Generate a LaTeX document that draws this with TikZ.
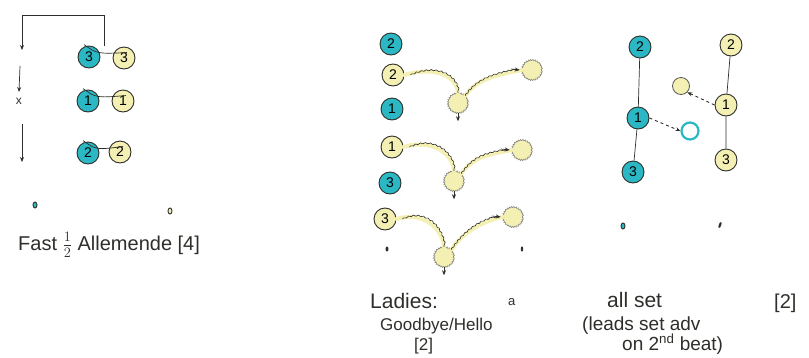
\documentclass[tikz,border=0pt]{standalone}
\usepackage{fontspec}
\setmainfont{Liberation Sans}
\usetikzlibrary{arrows.meta,decorations.pathmorphing,shapes.geometric}
\definecolor{leadc}{HTML}{2BB8C4}
\definecolor{followc}{HTML}{F4F0B4}
\definecolor{inkc}{HTML}{2E2E2A}
\tikzset{
  x=1pt, y=-1pt,
  dancer/.style={circle, draw=inkc, line width=0.9pt, minimum size=22pt, inner sep=0pt, font=\fontsize{14}{14}\selectfont},
  lead/.style={dancer, fill=leadc},
  follow/.style={dancer, fill=followc},
  ghost/.style={circle, fill=followc, draw=inkc!60, line width=0.5pt, minimum size=20pt, inner sep=0pt,
    decorate, decoration={zigzag, segment length=2.2pt, amplitude=0.7pt}},
  spot/.style={ellipse, draw=inkc, line width=0.9pt, minimum width=5pt, minimum height=7pt, inner sep=0pt},
  arm/.style={draw=inkc, line width=0.7pt},
  link/.style={draw=inkc, line width=0.7pt},
  trail/.style={draw=followc, line width=4pt, line cap=round},
  track/.style={draw=inkc, line width=0.6pt, decorate, decoration={snake, segment length=5pt, amplitude=0.6pt}},
  tip/.style={-{Stealth[length=5pt,width=4pt]}, draw=inkc, line width=0.7pt},
  hand/.style={font=\fontsize{17}{17}\selectfont, text=inkc, inner sep=0pt, anchor=base west},
}
\begin{document}
\begin{tikzpicture}
\useasboundingbox (0,0) rectangle (809,357);

% ---- Fast half allemande: three couples in a column ----
\node[lead]   (l3) at (89,57)  {3};
\node[follow] (f3) at (124,58) {3};
\node[lead]   (l1) at (88,101) {1};
\node[follow] (f1) at (123,101) {1};
\node[lead]   (l2) at (88,153) {2};
\node[follow] (f2) at (120,152) {2};
\foreach \a/\b in {l3/f3,l1/f1,l2/f2}
  \draw[arm] ([xshift=-5pt,yshift=1pt]\a.north) .. controls ([yshift=-5pt]\a.north east) .. ([xshift=3pt,yshift=-6pt]\b.north);

% travel bracket and arrows down the set
\coordinate (bs) at (104,46);
\coordinate (bt) at (22,50);
\draw[tip] (bs) -- (104,15) -- (22,15) -- (bt);
\coordinate (a1s) at (20,66);
\coordinate (a1e) at (19,92);
\draw[tip] (a1s) -- (a1e);
\node[text=inkc, font=\fontsize{12}{12}\selectfont, inner sep=0pt] (xmark) at (19,101) {x};
\coordinate (a2s) at (22,124);
\coordinate (a2e) at (22,162);
\draw[tip] (a2s) -- (a2e);

\node[spot, fill=leadc, minimum width=4pt, minimum height=6pt] (sl) at (35,205) {};
\node[spot, fill=followc, minimum width=4pt, minimum height=6pt] (sf) at (170,211) {};
\node[hand, font=\fontsize{20}{20}\selectfont] (t1) at (18,250) {Fast $\frac{1}{2}$ Allemende [4]};

% ---- Ladies goodbye / hello ----
\node[lead]   (m2) at (391,44)  {2};
\node[follow] (n2) at (393,75)  {2};
\node[lead]   (m1) at (392,109) {1};
\node[follow] (n1) at (392,147) {1};
\node[lead]   (m3) at (390,183) {3};
\node[follow] (n3) at (385,219) {3};

\node[ghost] (g2a) at (458,103) {};
\node[ghost] (g2b) at (532,70)  {};
\node[ghost] (g1a) at (454,181) {};
\node[ghost] (g1b) at (522,150) {};
\node[ghost] (g3a) at (444,257) {};
\node[ghost] (g3b) at (513,217) {};

% yellow highlight under each track
\foreach \s/\m/\e in {n2/g2a/g2b, n1/g1a/g1b, n3/g3a/g3b}{
  \draw[trail] (\s.east) .. controls +(25,-8) and +(-2,-20) .. (\m.north);
  \draw[trail] (\m.north east) .. controls +(12,-18) and +(-20,4) .. (\e.west);
}
\foreach \s/\m/\e in {n2/g2a/g2b, n1/g1a/g1b, n3/g3a/g3b}{
  \draw[track] ([xshift=6pt]\s.east) .. controls +(22,-10) and +(-2,-20) .. (\m.north);
  \draw[track] (\m.north east) .. controls +(12,-18) and +(-18,4) .. ([xshift=-6pt]\e.west);
  \draw[tip] ([xshift=-11pt,yshift=1pt]\e.west) -- ([xshift=-2pt]\e.west);
  \draw[tip] (\m.south) -- ([yshift=-8pt]\m.south);
}
\node[spot, minimum width=2pt, minimum height=4pt, fill=inkc] (d1) at (387,249) {};
\node[spot, minimum width=1.5pt, minimum height=4pt, fill=inkc] (d2) at (522,249) {};

% ---- All set ----
\node[lead]   (p2) at (640,47)  {2};
\node[lead]   (p1) at (638,118) {1};
\node[lead]   (p3) at (633,172) {3};
\node[follow] (q2) at (731,45)  {2};
\node[follow] (q1) at (726,105) {1};
\node[follow] (q3) at (726,160) {3};
\draw[link] (p2) -- (p1) -- (p3);
\draw[link] (q2) -- (q1) -- (q3);
\node[circle, draw=leadc, line width=2.2pt, minimum size=17pt, inner sep=0pt] (pm) at (690,131) {};
\node[circle, fill=followc, draw=inkc!80, line width=0.8pt, minimum size=17pt, inner sep=0pt] (qm) at (681,86) {};
\draw[tip, dashed, line width=0.9pt] (p1.east) -- (pm.west);
\draw[tip, dashed, line width=0.9pt] (q1.west) -- (qm.south east);
\node[spot, fill=leadc, minimum width=4pt, minimum height=6pt] (sp) at (623,226) {};
\node[spot, minimum width=1.5pt, minimum height=5pt, fill=inkc, rotate=-20] (sq) at (720,225) {};

% captions
\node[hand, font=\fontsize{21}{21}\selectfont] (lad) at (370,308) {Ladies:};
\node[hand] (gbh) at (380,330) {Goodbye/Hello};
\node[hand] (gb2) at (414,350) {[2]};
\node[hand, font=\fontsize{13}{13}\selectfont] (amp) at (508,305) {a};
\node[hand, font=\fontsize{21}{21}\selectfont] (as) at (607,307) {all set};
\node[hand, font=\fontsize{20}{20}\selectfont] (as2) at (774,308) {[2]};
\node[hand, font=\fontsize{19}{19}\selectfont] (ld) at (582,330) {(leads set adv};
\node[hand, font=\fontsize{19}{19}\selectfont] (ld2) at (622,350) {on 2\textsuperscript{nd} beat)};
\end{tikzpicture}
\end{document}
